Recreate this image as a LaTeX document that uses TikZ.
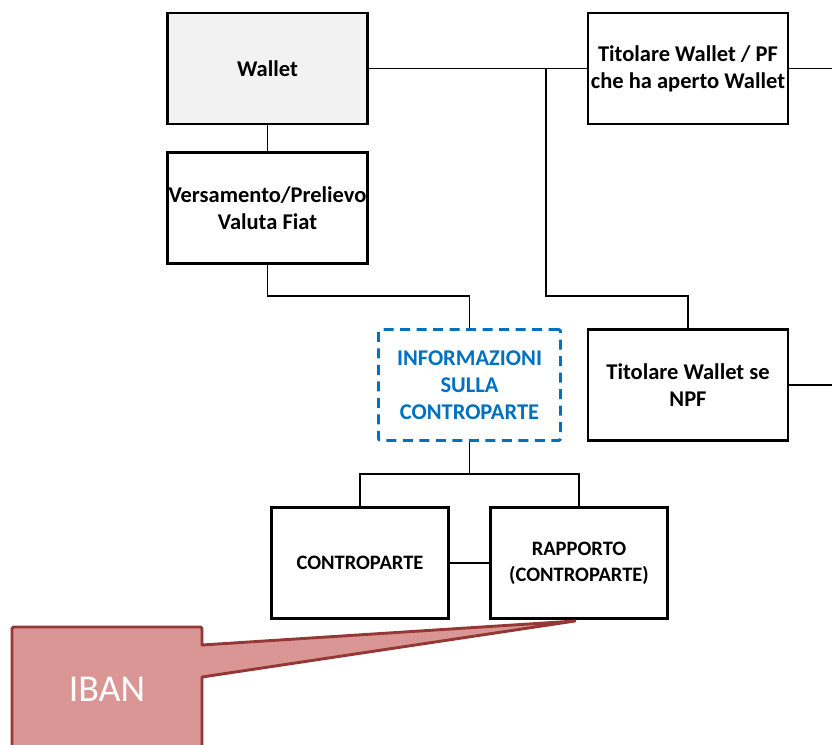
\documentclass[tikz,border=0pt]{standalone}
\usepackage{fontspec}
\setmainfont{Carlito}
\definecolor{wgray}{HTML}{F2F2F2}
\definecolor{infoblue}{HTML}{0070C0}
\definecolor{callfill}{HTML}{D99694}
\definecolor{calldraw}{HTML}{953735}
\begin{document}
\begin{tikzpicture}[x=1pt,y=-1pt,
  box/.style={draw=black, line width=2.9pt, minimum width=200pt, minimum height=111pt,
    font=\fontsize{22.5}{27}\selectfont\bfseries, align=center, inner sep=0pt},
  smallbox/.style={box, minimum width=177pt, font=\fontsize{20.5}{26}\selectfont\bfseries},
  infobox/.style={draw=infoblue, text=infoblue, line width=2.9pt, dash pattern=on 10pt off 6.5pt,
    rounded corners=2pt, minimum width=182pt, minimum height=111pt,
    font=\fontsize{22.5}{27}\selectfont\bfseries, align=center, inner sep=0pt},
  conn/.style={line width=1.9pt, draw=black},
  callout/.style={fill=callfill, draw=calldraw, line width=2.9pt, line join=round},
]
\useasboundingbox (0,0) rectangle (832,744);

\node[box, fill=wgray] (wallet) at (267.5,68.5) {Wallet};
\node[box] (vers) at (267.5,208) {Versamento/Prelievo\\Valuta Fiat};
\node[box] (pf) at (688,68.5) {Titolare Wallet / PF\\che ha aperto Wallet};
\node[box] (npf) at (688,385) {Titolare Wallet se\\NPF};
\node[infobox] (info) at (469.5,385) {INFORMAZIONI\\SULLA\\CONTROPARTE};
\node[smallbox] (contro) at (360,563) {CONTROPARTE};
\node[smallbox] (rapp) at (579,563) {RAPPORTO\\(CONTROPARTE)};

\coordinate (pfout) at (832,68.5);
\coordinate (npfout) at (832,385);
\coordinate (jx) at (546,68.5);

\draw[conn] (wallet.east) -- (pf.west);
\draw[conn] (pf.east) -- (pfout);
\draw[conn] (npf.east) -- (npfout);
\draw[conn] (jx) |- (688,296) -- (npf.north);
\draw[conn] (wallet.south) -- (vers.north);
\draw[conn] (vers.south) -- ++(0,31) -| (info.north);
\draw[conn] (info.south) -- ++(0,32) coordinate (ij);
\draw[conn] (contro.north) |- (ij) -| (rapp.north);
\draw[conn] (contro.east) -- (rapp.west);

\begin{scope}
\clip (0,0) rectangle (832,744);
\draw[callout] (12,770) -- (12,630) [rounded corners=2pt] -- (12,627) -- (202,627) [sharp corners] -- (202,645) -- (575,621) -- (202,677) -- (202,770);
\end{scope}
\node[text=white, font=\fontsize{38}{44}\selectfont, inner sep=0pt] (iban) at (107,689) {IBAN};
\end{tikzpicture}
\end{document}
